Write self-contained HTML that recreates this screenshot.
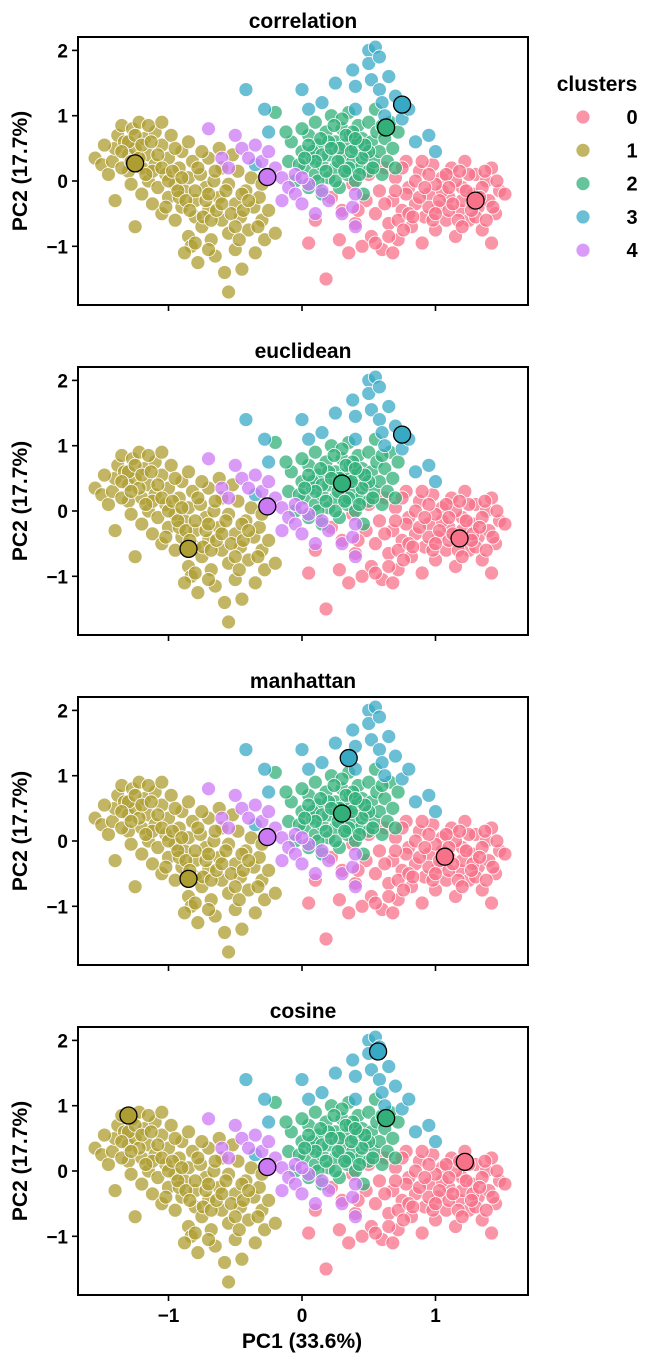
<!DOCTYPE html>
<html><head><meta charset="utf-8"><style>
body{margin:0;background:#fff;}
svg{display:block;font-family:"Liberation Sans",Arial,sans-serif;}
</style></head><body>
<svg id="chart" width="666" height="1366" viewBox="0 0 666 1366"></svg>
<script>
const panelTitles=["correlation","euclidean","manhattan","cosine"];
const clusterNames=["0","1","2","3","4"];
const xTicks=[-1,0,1];
const yTicks=[-1,0,1,2];
const pts1=[[-1.55,0.35],[-1.5,0.25],[-1.45,0.1],[-1.42,0.3],[-1.4,0.5],[-1.38,0.7],[-1.35,0.85],[-1.33,0.6],[-1.3,0.4],[-1.3,0.15],[-1.28,-0.05],[-1.27,0.8],[-1.25,0.5],[-1.22,0.9],[-1.2,0.2],[-1.2,-0.2],[-1.18,0.65],[-1.15,0.4],[-1.15,0.0],[-1.12,-0.35],[-1.1,0.75],[-1.1,0.25],[-1.08,-0.1],[-1.05,0.55],[-1.05,-0.5],[-1.02,0.1],[-1.0,0.35],[-1.0,-0.25],[-0.98,0.7],[-0.95,-0.05],[-0.95,-0.6],[-0.92,0.2],[-0.9,0.45],[-0.9,-0.4],[-0.88,-0.15],[-0.85,0.05],[-0.85,-0.85],[-0.83,-1.0],[-0.82,0.3],[-0.8,-0.3],[-0.8,-0.55],[-0.78,-1.25],[-0.76,0.1],[-0.75,-0.7],[-0.72,-0.1],[-0.7,-0.45],[-0.7,0.35],[-0.68,-0.9],[-0.66,0.0],[-0.65,-1.15],[-0.62,-0.25],[-0.6,0.2],[-0.6,-0.6],[-0.58,-1.4],[-0.55,-0.05],[-0.55,-0.8],[-0.52,0.4],[-0.5,-0.35],[-0.5,-1.05],[-0.48,0.15],[-0.46,-0.55],[-0.45,-1.35],[-0.42,-0.15],[-0.4,-0.75],[-0.38,0.05],[-0.36,-0.4],[-0.35,-1.1],[-0.32,-0.25],[-0.3,-0.6],[-0.28,-0.9],[-0.25,-0.45],[-0.55,-1.7],[-1.25,-0.7],[-1.4,-0.3],[-1.35,0.2],[-1.15,0.85],[-0.95,0.5],[-0.75,0.45],[-0.62,0.5],[-1.48,0.55],[-1.05,0.9],[-0.88,-1.1],[-0.2,-0.8],[-1.3,0.6],[-1.22,0.35],[-1.12,0.15],[-1.02,-0.4],[-0.92,-0.25],[-0.72,-0.3],[-0.65,0.15],[-0.45,-0.2],[-0.85,0.6],[-1.0,0.0],
[-1.25,0.7],[-1.2,0.55],[-1.17,0.1],[-1.13,0.6],[-1.08,0.4],[-1.05,0.2],[-0.97,0.15],[-0.93,-0.15],[-0.9,0.05],[-0.87,-0.3],[-0.84,-0.45],[-0.8,-0.15],[-0.78,0.2],[-0.74,-0.55],[-0.7,-0.2],[-0.68,-0.6],[-0.64,-0.45],[-0.6,-0.35],[-0.57,-0.15],[-0.53,-0.5],[-0.5,-0.7],[-0.47,-0.9],[-0.44,-0.45],[-0.4,-0.3],[-0.33,-0.7],[-0.3,-0.05],[-0.8,-0.95],[-0.7,-1.05],[-1.35,0.45],[-1.28,0.3]];
const pts4=[[-0.7,0.8],[-0.5,0.7],[-0.45,0.5],[-0.35,0.55],[-0.3,0.3],[-0.2,0.2],[-0.15,0.05],[-0.1,-0.1],[-0.05,-0.2],[0.0,-0.35],[-0.15,-0.3],[-0.6,0.35],[-0.4,0.35],[0.1,-0.5],[0.2,-0.3],[0.3,-0.5],[0.4,-0.7],[0.38,-0.4],[0.15,-0.15],[-0.25,0.45],[-0.05,0.1],[0.05,-0.05],[0.4,-0.2],[-0.55,0.2],[0.0,0.05]];
const pts2=[[-0.2,1.05],[-0.1,0.3],[-0.08,0.6],[-0.05,0.0],[0.0,0.45],[0.02,0.2],[0.05,0.7],[0.05,-0.1],[0.08,0.35],[0.1,0.9],[0.1,0.1],[0.12,0.55],[0.15,0.25],[0.15,-0.2],[0.18,0.75],[0.2,0.4],[0.2,0.05],[0.22,1.0],[0.25,0.6],[0.25,0.2],[0.28,-0.1],[0.3,0.8],[0.3,0.35],[0.32,0.55],[0.34,0.1],[0.35,1.05],[0.36,0.7],[0.38,0.3],[0.4,0.5],[0.4,0.0],[0.42,0.85],[0.44,0.2],[0.45,0.65],[0.46,-0.2],[0.48,0.4],[0.5,0.9],[0.5,0.15],[0.52,0.6],[0.54,0.3],[0.55,1.1],[0.56,0.75],[0.58,0.45],[0.6,0.1],[0.62,0.65],[0.64,0.3],[0.66,0.9],[0.68,0.5],[0.7,0.2],[0.72,0.75],[0.0,0.8],[0.12,0.0],[0.28,0.5],[0.42,0.6],[0.5,0.45],[0.6,0.85],[0.2,0.6],[0.35,0.2],[0.08,0.45],[0.3,0.95],[-0.12,0.75],[0.15,0.4],[0.45,0.35],[0.38,0.75],[0.25,0.0],[-0.02,0.25],
[0.05,0.55],[0.1,0.3],[0.18,0.15],[0.22,0.5],[0.27,0.3],[0.33,0.7],[0.37,0.45],[0.43,0.1],[0.47,0.55],[0.53,0.2],[0.02,0.35],[0.14,0.65],[0.24,0.85],[0.32,0.15],[0.4,0.65]];
const pts3=[[-0.42,1.4],[-0.28,1.1],[-0.25,0.75],[0.0,1.4],[0.05,1.1],[0.15,1.2],[0.25,1.5],[0.38,1.7],[0.4,1.1],[0.5,2.0],[0.55,2.05],[0.5,1.8],[0.52,1.55],[0.58,1.4],[0.6,1.2],[0.62,1.0],[0.65,1.6],[0.7,1.3],[0.75,0.95],[0.8,1.1],[0.85,0.6],[0.95,0.7],[1.0,0.45],[-0.35,0.25],[0.4,1.45],[0.58,1.9]];
const pts0=[[0.05,-0.95],[0.1,-0.6],[0.18,-1.5],[0.22,-0.25],[0.28,-0.9],[0.3,-0.45],[0.35,-1.1],[0.38,-0.05],[0.4,-0.65],[0.45,-1.0],[0.48,-0.3],[0.5,0.1],[0.52,-0.85],[0.55,-0.5],[0.58,-0.15],[0.6,-1.05],[0.62,0.2],[0.65,-0.65],[0.68,-0.3],[0.7,0.05],[0.72,-0.9],[0.75,-0.45],[0.78,0.3],[0.8,-0.1],[0.82,-0.7],[0.85,-0.35],[0.88,0.15],[0.9,-0.95],[0.92,-0.55],[0.95,-0.2],[0.98,0.25],[1.0,-0.75],[1.02,-0.4],[1.05,0.05],[1.08,-0.6],[1.1,-0.25],[1.12,0.2],[1.15,-0.85],[1.18,-0.45],[1.2,-0.1],[1.22,0.3],[1.25,-0.6],[1.28,-0.2],[1.3,0.1],[1.32,-0.4],[1.35,-0.75],[1.38,0.0],[1.4,-0.3],[1.42,0.2],[1.45,-0.5],[1.48,-0.15],[1.52,-0.2],[1.42,-0.95],[1.3,-0.55],[0.62,-0.35],[0.72,-0.6],[0.85,0.0],[0.95,-0.4],[1.05,-0.15],[1.15,0.0],[1.25,0.1],[1.35,-0.1],[0.9,0.3],[0.78,-0.2],[1.1,-0.45],[1.2,-0.3],[0.68,-1.1],[0.42,-0.45],[0.55,-0.95],[1.0,-0.05],[0.75,0.2],[1.38,-0.6],[0.95,0.1],[0.8,-0.5],[1.28,-0.35],[1.18,0.15],
[0.88,-0.25],[0.98,-0.6],[1.03,-0.3],[1.08,0.1],[1.13,-0.35],[1.17,-0.6],[1.23,-0.15],[1.27,-0.45],[1.33,-0.25],[1.37,0.15],[1.43,-0.4],[1.46,0.0],[0.83,-0.55],[0.92,-0.1],[1.0,-0.5],[1.1,-0.1],[1.2,-0.7],[0.7,-0.15],[0.65,-0.85],[0.76,-0.75]];
const centroidsCorrelation=[[1.3,-0.3],[-1.25,0.27],[0.63,0.82],[0.75,1.17],[-0.26,0.06]];
const centroidsEuclidean=[[1.18,-0.42],[-0.85,-0.58],[0.3,0.42],[0.75,1.17],[-0.26,0.07]];
const centroidsManhattan=[[1.07,-0.24],[-0.85,-0.58],[0.3,0.42],[0.35,1.27],[-0.26,0.06]];
const centroidsCosine=[[1.22,0.14],[-1.3,0.85],[0.63,0.81],[0.57,1.83],[-0.26,0.06]];

const colors=["#f77189","#ae9d31","#33b07a","#38a9c5","#cc7af4"];
const groups=[pts0,pts1,pts2,pts3,pts4];
const cents=[centroidsCorrelation,centroidsEuclidean,centroidsManhattan,centroidsCosine];
const NS="http://www.w3.org/2000/svg";
const svg=document.getElementById('chart');
function mk(tag,attrs,parent){const e=document.createElementNS(NS,tag);for(const k in attrs)e.setAttribute(k,attrs[k]);(parent||svg).appendChild(e);return e;}
const L=78,R=528,PH=268,X0=302,XU=133.5,YU=65.3;
const xs=v=>X0+v*XU;
panelTitles.forEach((t,p)=>{
  const top=37+p*330, y0=top+144;
  const ys=v=>y0-v*YU;
  const g=mk('g',{});
  
  
  const ti=mk('text',{x:(L+R)/2,y:top-9,'text-anchor':'middle','font-size':21,'font-weight':'bold'},g);
  ti.textContent=t;
  
  
  const cp=mk('clipPath',{id:'cp'+p},g);mk('rect',{x:L,y:top,width:R-L,height:PH},cp);
  const pg=mk('g',{'clip-path':'url(#cp'+p+')'},g);
  groups.forEach((grp,c)=>grp.forEach(d=>{
    const el=mk('circle',{cx:xs(d[0]),cy:ys(d[1]),r:7,fill:colors[c],'fill-opacity':0.75,stroke:'#fff','stroke-width':0.8},pg);
    
    
  }));
  cents[p].forEach((d,c)=>{
    const el=mk('circle',{cx:xs(d[0]),cy:ys(d[1]),r:8.5,fill:colors[c],stroke:'#000','stroke-width':1.3},pg);
    
    
  });
  const fr=mk('rect',{x:L,y:top,width:R-L,height:PH,fill:'none',stroke:'#000','stroke-width':2},g);
  
  
  yTicks.forEach(v=>{
    mk('line',{x1:L-6,x2:L,y1:ys(v),y2:ys(v),stroke:'#000','stroke-width':1.6},g);
    const tl=mk('text',{x:L-10,y:ys(v)+7,'text-anchor':'end','font-size':19,'font-weight':'bold'},g);
    tl.textContent=v<0?'\u2212'+(-v):String(v);
    
    
  });
  xTicks.forEach(v=>{
    mk('line',{x1:xs(v),x2:xs(v),y1:top+PH,y2:top+PH+6,stroke:'#000','stroke-width':1.6},g);
    if(p===3){
      const tl=mk('text',{x:xs(v),y:top+PH+27,'text-anchor':'middle','font-size':19,'font-weight':'bold'},g);
      tl.textContent=v<0?'\u2212'+(-v):String(v);
      
      
    }
  });
  const yl=mk('text',{x:0,y:0,transform:'translate(27,'+(top+PH/2)+') rotate(-90)','text-anchor':'middle','font-size':21,'font-weight':'bold'},g);
  yl.textContent='PC2 (17.7%)';
  
  
});
const xl=mk('text',{x:302,y:1348,'text-anchor':'middle','font-size':21,'font-weight':'bold'});
xl.textContent='PC1 (33.6%)';


const lg=mk('g',{});


const lt=mk('text',{x:597,y:91,'text-anchor':'middle','font-size':21,'font-weight':'bold'},lg);
lt.textContent='clusters';
clusterNames.forEach((n,i)=>{
  const y=117+i*33.3;
  const e=mk('g',{},lg);
  
  
  mk('circle',{cx:583,cy:y,r:7,fill:colors[i],'fill-opacity':0.75,stroke:'#fff','stroke-width':0.8},e);
  const tx=mk('text',{x:632,y:y+7,'text-anchor':'middle','font-size':20,'font-weight':'bold'},e);
  tx.textContent=n;
});
</script>
</body></html>
